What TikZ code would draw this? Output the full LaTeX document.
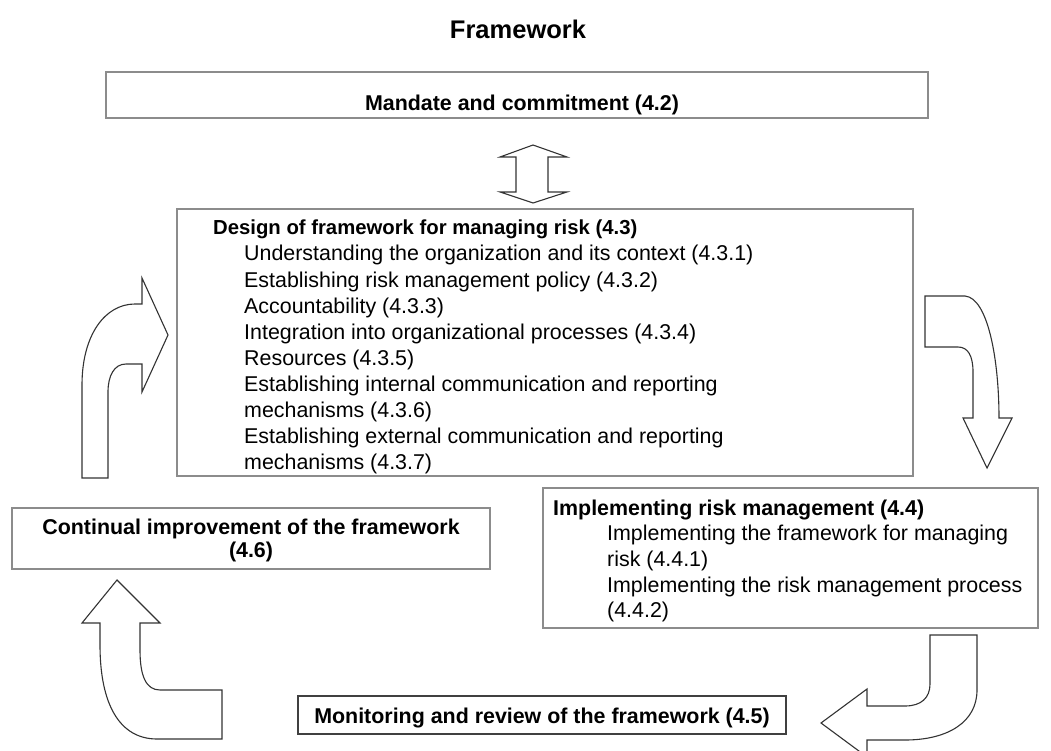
\documentclass[tikz,border=0pt]{standalone}
\usepackage{fontspec}
\setmainfont{Liberation Sans}
\begin{document}
\begin{tikzpicture}[x=1pt,y=-1pt,
  box/.style={draw=black!45, line width=1.1pt, fill=white, inner sep=0, rectangle},
  darkbox/.style={draw=black!75, line width=1.1pt, fill=white, inner sep=0, rectangle},
  blockarrow/.style={draw=black!80, line width=1.1pt, fill=white, line join=miter},
  txt/.style={font=\fontsize{21.4}{25}\selectfont, inner sep=0, anchor=base west},
  btxt/.style={font=\fontsize{21.4}{25}\selectfont\bfseries, inner sep=0, anchor=base west},
  ctxt/.style={font=\fontsize{21.4}{25}\selectfont\bfseries, inner sep=0, anchor=base}]
\useasboundingbox (0,0) rectangle (1051,751);
\clip (0,0) rectangle (1051,751);

% title
\node[font=\fontsize{25.5}{30}\selectfont\bfseries, inner sep=0, anchor=base] (title) at (518,39) {Framework};

% boxes
\node[box, minimum width=822pt, minimum height=46pt] (mandate) at (517,95) {};
\node[box, minimum width=736pt, minimum height=267pt] (design) at (545,342.5) {};
\node[box, minimum width=495pt, minimum height=140pt] (impl) at (790.5,558) {};
\node[box, minimum width=478pt, minimum height=61pt] (contin) at (251,538.5) {};
\node[darkbox, minimum width=488pt, minimum height=38pt] (monit) at (542,715) {};

% texts
\node[ctxt] (mandatetxt) at (522,111) {Mandate and commitment (4.2)};

\node[btxt, font=\fontsize{20.3}{25}\selectfont\bfseries] (d0) at (213,235) {Design of framework for managing risk (4.3)};
\foreach \t [count=\i] in {Understanding the organization and its context (4.3.1),
  Establishing risk management policy (4.3.2),
  Accountability (4.3.3),
  Integration into organizational processes (4.3.4),
  Resources (4.3.5),
  Establishing internal communication and reporting,
  mechanisms (4.3.6),
  Establishing external communication and reporting,
  mechanisms (4.3.7)}
  \node[txt] (d\i) at (244,235+26*\i) {\t};

\node[btxt] (i0) at (553,515) {Implementing risk management (4.4)};
\foreach \t [count=\i] in {Implementing the framework for managing,
  risk (4.4.1),
  Implementing the risk management process,
  (4.4.2)}
  \node[txt] (i\i) at (607,515+25.7*\i) {\t};

\node[ctxt] (c1) at (251,534) {Continual improvement of the framework};
\node[ctxt] (c2) at (251,557) {(4.6)};

\node[ctxt] (m1) at (542,723) {Monitoring and review of the framework (4.5)};

% double arrow between mandate and design
\draw[blockarrow] (533,145) -- (567,157) -- (548,157) -- (548,192) -- (567,192) -- (533,203)
  -- (500,192) -- (516,192) -- (516,157) -- (500,157) -- cycle;

% left arrow: up then right into design
\draw[blockarrow] (82,478) -- (82,385) .. controls (82,335) and (105,304) .. (135,304)
  -- (142,304) -- (142,278) -- (168,335) -- (142,392) -- (142,364) -- (126,364)
  .. controls (114,364) and (108,376) .. (108,392) -- (108,478) -- cycle;

% right arrow: from design down to implementing
\draw[blockarrow] (925,296) -- (965,296) .. controls (988,298) and (999,360) .. (999,418)
  -- (1012,418) -- (987,468) -- (963,418) -- (973,418) -- (973,372)
  .. controls (973,356) and (968,347) .. (958,347) -- (925,347) -- cycle;

% bottom right arrow: down then left to monitoring
\draw[blockarrow] (930,635) -- (977,635) -- (977,690) .. controls (977,722) and (948,740) .. (905,740)
  -- (867,740) -- (867,757) -- (821,723) -- (867,689) -- (867,706) -- (905,706)
  .. controls (921,706) and (930,698) .. (930,684) -- cycle;

% bottom left arrow: right to left then up to continual
\draw[blockarrow] (117,580) -- (160,623) -- (140,623) -- (140,650)
  .. controls (140,676) and (146,690) .. (160,690) -- (222,690) -- (222,739) -- (157,739)
  .. controls (120,739) and (100,705) .. (100,645) -- (100,623) -- (82,623) -- cycle;
\end{tikzpicture}
\end{document}
